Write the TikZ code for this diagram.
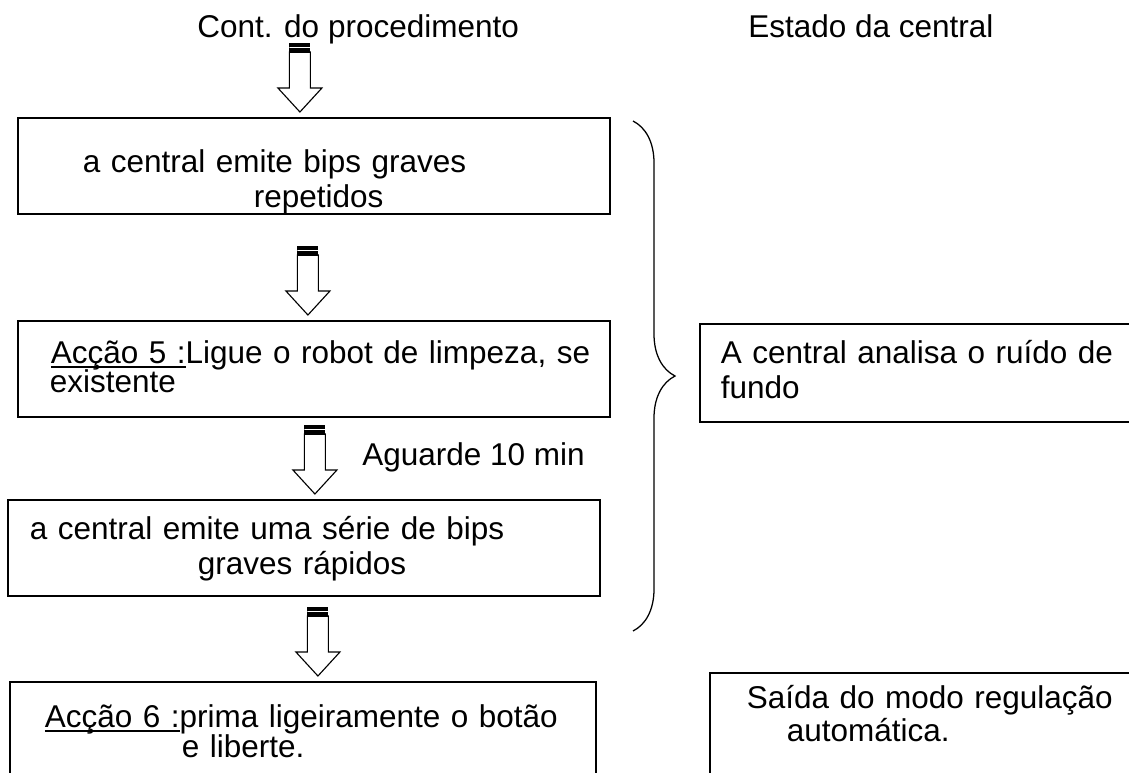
\documentclass[tikz,border=0pt]{standalone}
\usepackage{fontspec}
\setmainfont{Liberation Sans}
\usetikzlibrary{decorations.pathreplacing}

\newlength\pxu
\setlength\pxu{0.025cm}
\newcommand\actlabel[1]{\setbox0\hbox{#1}\rlap{\rule[-3.2pt]{\wd0}{2pt}}\box0}

\tikzset{
  flowbox/.style={draw, line width=1.2pt, rectangle, inner sep=0pt, anchor=north west, align=left},
  arrowcap/.style={fill=black, inner sep=0pt, minimum width=0.525cm, minimum height=0.25cm, anchor=north,
    path picture={\draw[white, line width=0.5pt] (path picture bounding box.west) -- (path picture bounding box.east);}},
  hollowarrow/.style={fill=white, line width=0.8pt,
    to path={(\tikztotarget) ++(0,-5) coordinate (tip) -- ++(-22,-24) -- ++(11.5,0) -- ++(0,-36)
      -- ++(21,0) -- ++(0,36) -- ++(11.5,0) -- cycle (tip) ++(0,-70) node[arrowcap] {}}},
}

\begin{document}
\begin{tikzpicture}[x=0.025cm, y=-0.025cm, font=\fontsize{22.4}{24.9}\selectfont]
        \useasboundingbox (0,0) rectangle (1129,772);
        \clip (0,0) rectangle (1129,772);

        % column titles
        \node[anchor=base west, inner sep=0pt] (cont) at (197,37) {Cont. do procedimento};
        \node[anchor=base west, inner sep=0pt] (estado) at (748,37) {Estado da central};

        % procedure
        \node[flowbox, text width=14.8cm, text height=1.375cm, text depth=1.025cm] (b1) at (17,117)
            {\hspace*{65\pxu}a central emite bips graves\\ \hspace*{236\pxu}repetidos};
        \node[flowbox, text width=14.8cm, text height=1.075cm, text depth=1.325cm] (b2) at (17,320)
            {\hspace*{33\pxu}\actlabel{Acção 5 :}Ligue o robot de limpeza, se\\[-4.3pt] \hspace*{32\pxu}existente};
        \node[flowbox, text width=14.8cm, text height=1cm, text depth=1.4cm] (b3) at (7,499)
            {\hspace*{22\pxu}a central emite uma série de bips\\ \hspace*{190\pxu}graves rápidos};
        \node[flowbox, text width=14.65cm, text height=1.15cm, text depth=1.825cm] (b4) at (9,681)
            {\hspace*{35\pxu}\actlabel{Acção 6 :}prima ligeiramente o botão\\[-3.6pt] \hspace*{172\pxu}e liberte.};

        \draw[hollowarrow] ([xshift=-0.35cm]cont.south) to ([xshift=-0.35cm]b1.north);
        \draw[hollowarrow] ([xshift=-0.15cm]b1.south) to ([xshift=-0.15cm]b2.north);
        \draw[hollowarrow] ([xshift=0.275cm]b2.south) to ([xshift=0.275cm]b3.north);
        \draw[hollowarrow] ([xshift=0.375cm]b3.south) to ([xshift=0.375cm]b4.north);
        \node[anchor=base west, inner sep=0pt] (wait) at (362,465) {Aguarde 10 min};

        \draw[line width=0.9pt, decorate, decoration={brace, amplitude=1.05cm}] (633,121) -- (633,631);

        % state of the unit
        \node[flowbox, text width=11.5cm, text height=1cm, text depth=1.45cm] (r1) at (699,323)
            {\hspace*{21\pxu}A central analisa o ruído de\\ \hspace*{21\pxu}fundo};
        \node[flowbox, text width=11cm, text height=0.9cm, text depth=2.3cm] (r2) at (709,672)
            {\hspace*{37\pxu}Saída do modo regulação\\[-1.4pt] \hspace*{77\pxu}automática.};
\end{tikzpicture}
\end{document}
